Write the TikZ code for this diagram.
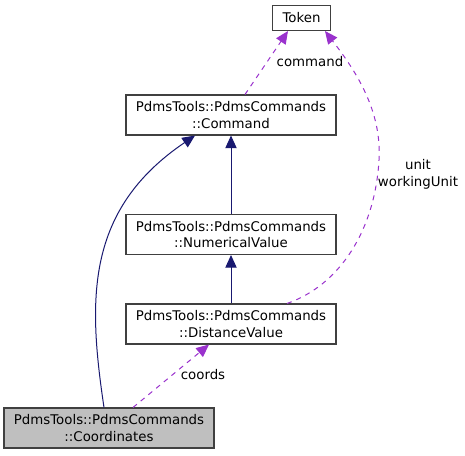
\documentclass[tikz,border=0pt]{standalone}
\usepackage{fontspec}
\setmainfont{DejaVu Sans}
\usetikzlibrary{arrows.meta,calc}
\definecolor{edgenavy}{HTML}{191970}
\definecolor{edgepurple}{HTML}{9A32CD}
\definecolor{boxgray}{HTML}{BFBFBF}
\definecolor{boxline}{HTML}{404040}
\begin{document}
\begin{tikzpicture}[x=0.75pt,y=-0.75pt,
  cls/.style={draw=boxline,line width=0.8pt,fill=white,rectangle,minimum width=157.5pt,minimum height=30pt,align=center,inner sep=0pt,font=\fontsize{10pt}{12.5pt}\selectfont},
  tok/.style={cls,minimum width=44pt,minimum height=18.75pt},
  inh/.style={draw=edgenavy,line width=0.75pt,-{Triangle[length=9.5pt,width=8.5pt]}},
  use/.style={draw=edgepurple,line width=0.75pt,dash pattern=on 3.75pt off 3.75pt,-{Triangle[length=9.5pt,width=8.5pt]}},
  lbl/.style={font=\fontsize{10pt}{12.5pt}\selectfont,align=center,inner sep=0pt}]
\useasboundingbox (0,0) rectangle (465,455);
\node[tok] (token) at (301.5,18) {Token};
\node[cls] (command) at (231,115) {PdmsTools::PdmsCommands\\::Command};
\node[cls] (numval) at (231,234.5) {PdmsTools::PdmsCommands\\::NumericalValue};
\node[cls] (distval) at (231,324) {PdmsTools::PdmsCommands\\::DistanceValue};
\node[cls,fill=boxgray] (coords) at (109,428) {PdmsTools::PdmsCommands\\::Coordinates};

\draw[inh] (numval) -- (command);
\draw[inh] (distval) -- (numval);
\draw[inh] ($(coords.north)+(-5,0)$) .. controls (88,300) and (85,210) .. ($(command.south)+(-36,0)$);
\draw[use] ($(command.north)+(14,0)$) -- ($(token.south)+(-13.5,0)$);
\draw[use] ($(distval.north)+(56,0)$) .. controls (340,285) and (375,230) .. (379,160) .. controls (382,110) and (355,70) .. ($(token.south)+(23.5,0)$);
\draw[use] ($(coords.north)+(24,0)$) -- ($(distval.south)+(-22,0)$);

\node[lbl] (lcommand) at (310,62) {command};
\node[lbl] (lunit) at (418,174) {unit\\workingUnit};
\node[lbl] (lcoords) at (203,375) {coords};
\end{tikzpicture}
\end{document}
